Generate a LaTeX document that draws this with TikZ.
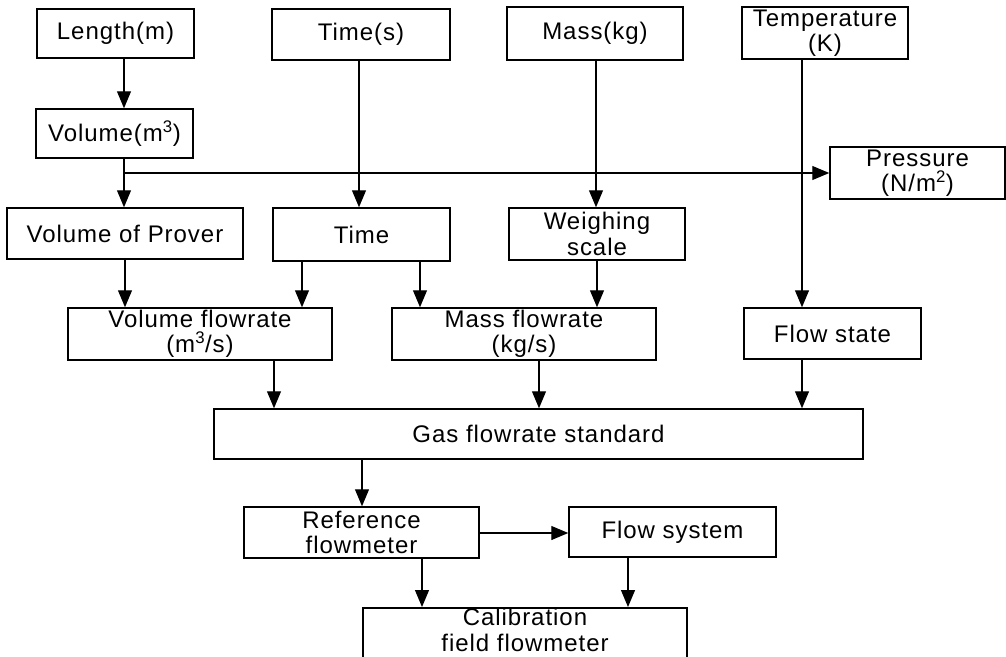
\documentclass[tikz,border=0pt]{standalone}
\usepackage{fontspec}
\setmainfont[LetterSpace=4]{Liberation Sans}
\usetikzlibrary{arrows.meta}
\begin{document}
\begin{tikzpicture}[x=1pt,y=-1pt,
  lbl/.style={inner sep=0pt, align=center, font=\fontsize{24}{25.5}\selectfont},
  box/.style 2 args={lbl, draw, line width=1.5pt,
    minimum width=#1pt, minimum height=#2pt},
  arr/.style={line width=1.2pt, -{Triangle[length=17pt,width=14pt]}}]
\useasboundingbox (0,0) rectangle (1006,656);
\clip (0,0) rectangle (1006,656);
% top row
\node[box={157}{49}] (length) at (115.5,33.5) {Length(m)};
\node[box={178}{51}] (times) at (361,34.5) {Time(s)};
\node[box={176}{53}] (masskg) at (595,33.5) {Mass(kg)};
\node[box={166}{52}] (temp) at (825,33) {Temperature\\(K)};
% second
\node[box={157}{49}] (volume) at (114.5,133.5) {Volume(m\textsuperscript{3})};
\node[box={175}{52}] (pressure) at (917.5,173) {Pressure\\(N/m\textsuperscript{2})};
% third
\node[box={236}{51}] (prover) at (125,233.5) {Volume of Prover};
\node[box={177}{53}] (time) at (361.5,234.5) {Time};
\node[box={176}{52}] (weigh) at (597,234) {Weighing\\scale};
% fourth
\node[box={264}{52}] (vflow) at (200,334) {Volume flowrate\\(m\textsuperscript{3}/s)};
\node[box={264}{52}] (mflow) at (524,334) {Mass flowrate\\(kg/s)};
\node[box={177}{51}] (fstate) at (832.5,333.5) {Flow state};
% gas
\node[box={649}{50}] (gas) at (538.5,434) {Gas flowrate standard};
% bottom
\node[box={235}{51}] (ref) at (361.5,532.5) {Reference\\flowmeter};
\node[box={207}{50}] (fsys) at (672.5,532) {Flow system};
\node[box={324}{64}, anchor=north] (calib) at (525,607) {};
\node[lbl] (calibtext) at (525,630) {Calibration\\field flowmeter};
% connector columns
\coordinate (j) at (124,173);
\coordinate (xts) at (359,0);
\coordinate (xmk) at (596,0);
\coordinate (xtk) at (802,0);
\coordinate (xpv) at (125,0);
\coordinate (xt1) at (302,0);
\coordinate (xt2) at (420,0);
\coordinate (xws) at (597,0);
\coordinate (xvf) at (274,0);
\coordinate (xmf) at (539,0);
\coordinate (xgs) at (362,0);
\coordinate (xrf) at (422,0);
\coordinate (xfs) at (628,0);
\coordinate (yrf) at (0,533);
% connectors
\draw[arr] (length.south -| j) -- (volume.north -| j);
\draw[arr] (volume.south -| j) -- (prover.north -| j);
\draw[arr] (j) -- (pressure.west |- j);
\draw[arr] (times.south -| xts) -- (time.north -| xts);
\draw[arr] (masskg.south -| xmk) -- (weigh.north -| xmk);
\draw[arr] (temp.south -| xtk) -- (fstate.north -| xtk);
\draw[arr] (prover.south -| xpv) -- (vflow.north -| xpv);
\draw[arr] (time.south -| xt1) -- (vflow.north -| xt1);
\draw[arr] (time.south -| xt2) -- (mflow.north -| xt2);
\draw[arr] (weigh.south -| xws) -- (mflow.north -| xws);
\draw[arr] (vflow.south -| xvf) -- (gas.north -| xvf);
\draw[arr] (mflow.south -| xmf) -- (gas.north -| xmf);
\draw[arr] (fstate.south -| xtk) -- (gas.north -| xtk);
\draw[arr] (gas.south -| xgs) -- (ref.north -| xgs);
\draw[arr] (ref.east |- yrf) -- (fsys.west |- yrf);
\draw[arr] (ref.south -| xrf) -- (calib.north -| xrf);
\draw[arr] (fsys.south -| xfs) -- (calib.north -| xfs);
\end{tikzpicture}
\end{document}
